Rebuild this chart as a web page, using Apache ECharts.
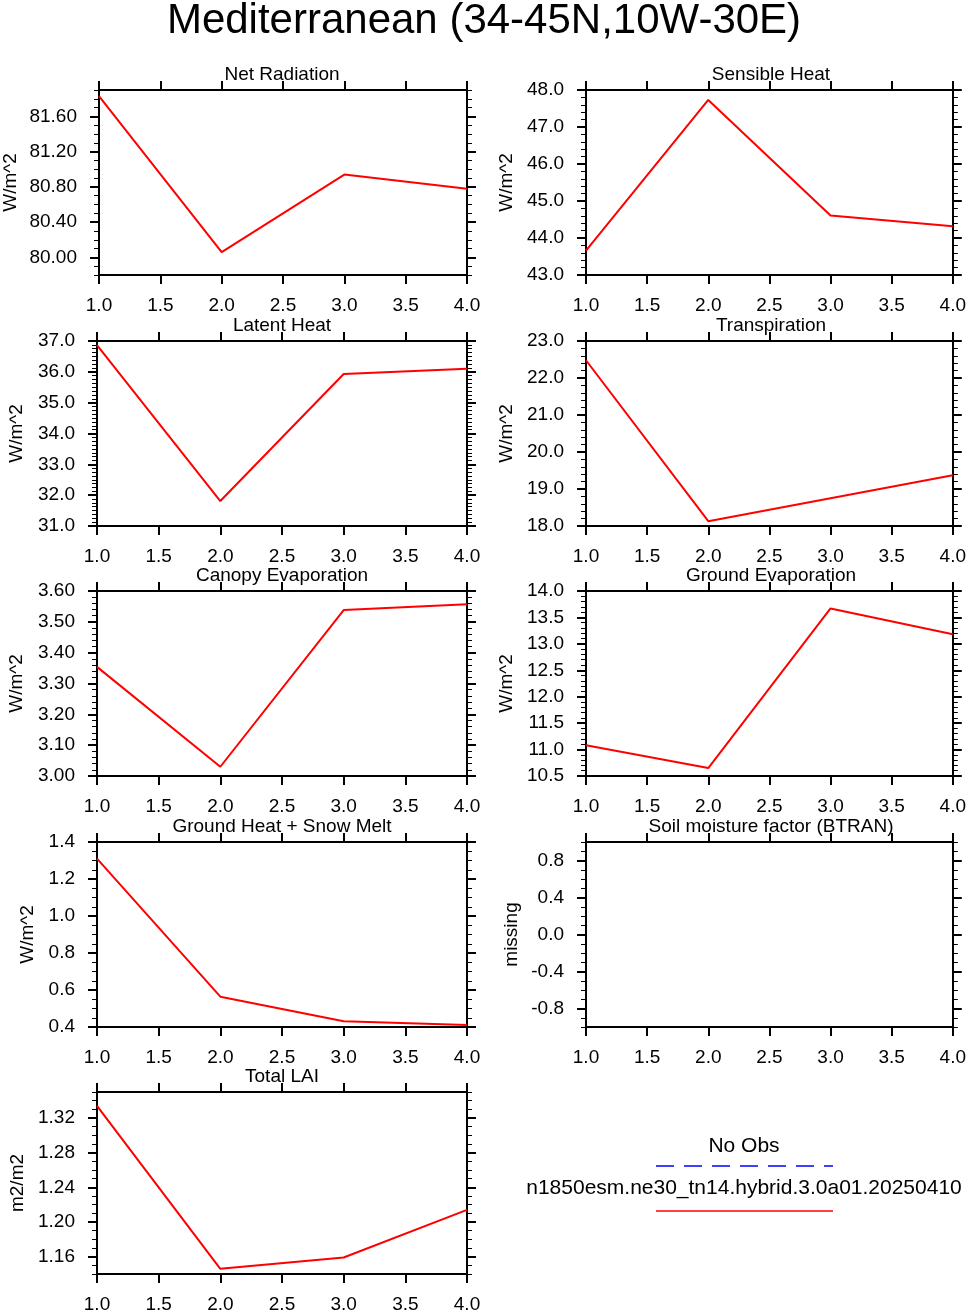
<!DOCTYPE html>
<html>
<head>
    <meta charset="utf-8">
    <title>Mediterranean</title>
    <script src="https://cdn.jsdelivr.net/npm/echarts@6.0.0/dist/echarts.min.js"></script>
    <style>
        html, body { margin: 0; padding: 0; background: #fff; }
        #main { width: 969px; height: 1314px; }
    </style>
</head>
<body>
<div id="main"></div>
<script>
// x positions (years) shared by every panel
var years = [1, 2, 3, 4];
var xTicks = [1.0, 1.5, 2.0, 2.5, 3.0, 3.5, 4.0];

// series values
var netRadiation = [81.83, 80.06, 80.94, 80.78];
var sensibleHeat = [43.66, 47.73, 44.61, 44.32];
var latentHeat = [36.87, 31.81, 35.93, 36.10];
var transpiration = [22.48, 18.13, 18.75, 19.37];
var canopyEvap = [3.354, 3.030, 3.538, 3.557];
var groundEvap = [11.08, 10.65, 13.67, 13.18];
var groundHeat = [1.31, 0.564, 0.431, 0.411];
var btran = [];   // missing
var totalLAI = [1.334, 1.146, 1.159, 1.214];

// major tick labels of each y axis
var netRadTicks = [80.0, 80.4, 80.8, 81.2, 81.6];
var sensibleTicks = [43, 44, 45, 46, 47, 48];
var latentTicks = [31, 32, 33, 34, 35, 36, 37];
var transpTicks = [18, 19, 20, 21, 22, 23];
var canopyTicks = [3.0, 3.1, 3.2, 3.3, 3.4, 3.5, 3.6];
var groundEvapTicks = [10.5, 11.0, 11.5, 12.0, 12.5, 13.0, 13.5, 14.0];
var groundHeatTicks = [0.4, 0.6, 0.8, 1.0, 1.2, 1.4];
var btranTicks = [-0.8, -0.4, 0.0, 0.4, 0.8];
var laiTicks = [1.16, 1.20, 1.24, 1.28, 1.32];

var panels = [
    {title: 'Net Radiation', unit: 'W/m^2', data: netRadiation, min: 79.8, max: 81.9, ticks: netRadTicks, minor: 0.1, dec: 2},
    {title: 'Sensible Heat', unit: 'W/m^2', data: sensibleHeat, min: 43, max: 48, ticks: sensibleTicks, minor: 0.2, dec: 1},
    {title: 'Latent Heat', unit: 'W/m^2', data: latentHeat, min: 31, max: 37, ticks: latentTicks, minor: 0.125, dec: 1},
    {title: 'Transpiration', unit: 'W/m^2', data: transpiration, min: 18, max: 23, ticks: transpTicks, minor: 0.2, dec: 1},
    {title: 'Canopy Evaporation', unit: 'W/m^2', data: canopyEvap, min: 3.0, max: 3.6, ticks: canopyTicks, minor: 0.02, dec: 2},
    {title: 'Ground Evaporation', unit: 'W/m^2', data: groundEvap, min: 10.5, max: 14, ticks: groundEvapTicks, minor: 0.1, dec: 1},
    {title: 'Ground Heat + Snow Melt', unit: 'W/m^2', data: groundHeat, min: 0.4, max: 1.4, ticks: groundHeatTicks, minor: 0.05, dec: 1},
    {title: 'Soil moisture factor (BTRAN)', unit: 'missing', data: btran, min: -1, max: 1, ticks: btranTicks, minor: 0.1, dec: 1},
    {title: 'Total LAI', unit: 'm2/m2', data: totalLAI, min: 1.14, max: 1.35, ticks: laiTicks, minor: 0.01, dec: 2}
];

// layout
var FONT = '"Liberation Sans", Arial, Helvetica, sans-serif';
var FS = 19;
var colLeft = [97, 586];
var rowTop = [90, 341, 591, 842, 1092];
var plotW = 370, plotH = 185;
var nameGaps = [79, 70, 71, 70, 71, 70, 60, 65, 70];

// minor tick values between min and max
function minorValues(min, max, step) {
    var out = [];
    var k0 = Math.ceil(min / step - 1e-6), k1 = Math.floor(max / step + 1e-6);
    for (var k = k0; k <= k1; k++) {
        out.push(Math.round(k * step * 1e6) / 1e6);
    }
    return out;
}

var blackLine = {color: '#000', width: 2};

var option = {
    animation: false,
    backgroundColor: '#fff',
    title: [{
        text: 'Mediterranean (34-45N,10W-30E)',
        left: 484, top: 0, textAlign: 'center', padding: 0,
        textStyle: {fontFamily: FONT, fontSize: 42, fontWeight: 'normal', color: '#000'}
    }],
    grid: [], xAxis: [], yAxis: [], series: [],
    graphic: []
};

for (var i = 0; i < panels.length; i++) {
    var p = panels[i];
    var gl = colLeft[i % 2], gt = rowTop[Math.floor(i / 2)];

    option.grid.push({left: gl, top: gt, width: plotW, height: plotH, show: false});

    option.title.push({
        text: p.title, left: gl + plotW / 2, top: gt - 25, textAlign: 'center', padding: 0,
        textStyle: {fontFamily: FONT, fontSize: FS, fontWeight: 'normal', color: '#000'}
    });

    // bottom x axis with labels, top x axis with ticks only
    ['bottom', 'top'].forEach(function (pos) {
        option.xAxis.push({
            type: 'value', gridIndex: i, position: pos, min: 1, max: 4,
            axisLine: {show: true, onZero: false, lineStyle: blackLine},
            axisTick: {show: true, length: 9, customValues: xTicks, lineStyle: blackLine},
            axisLabel: {
                show: pos === 'bottom', customValues: xTicks, margin: 21,
                fontFamily: FONT, fontSize: FS, color: '#000',
                formatter: function (v) { return v.toFixed(1); }
            },
            splitLine: {show: false}
        });
    });

    // left/right major axes and left/right minor tick axes
    var minors = minorValues(p.min, p.max, p.minor);
    (function (p, minors, gap) {
        ['left', 'right'].forEach(function (pos) {
            option.yAxis.push({
                type: 'value', gridIndex: i, position: pos, min: p.min, max: p.max,
                name: pos === 'left' ? p.unit : '', nameLocation: 'middle', nameGap: gap,
                nameTextStyle: {fontFamily: FONT, fontSize: FS, color: '#000'},
                axisLine: {show: true, onZero: false, lineStyle: blackLine},
                axisTick: {show: true, length: 9, customValues: p.ticks, lineStyle: blackLine},
                axisLabel: {
                    show: pos === 'left', customValues: p.ticks, margin: 22,
                    fontFamily: FONT, fontSize: FS, color: '#000',
                    formatter: function (v) { return v.toFixed(p.dec); }
                },
                splitLine: {show: false}
            });
            option.yAxis.push({
                type: 'value', gridIndex: i, position: pos, min: p.min, max: p.max,
                axisLine: {show: false, onZero: false},
                axisTick: {show: true, length: 5, customValues: minors, lineStyle: {color: '#000', width: 1}},
                axisLabel: {show: false},
                splitLine: {show: false}
            });
        });
    })(p, minors, nameGaps[i]);

    if (p.data.length) {
        option.series.push({
            type: 'line', xAxisIndex: 2 * i, yAxisIndex: 4 * i,
            data: years.map(function (x, k) { return [x, p.data[k]]; }),
            symbol: 'none', silent: true,
            lineStyle: {color: '#ff0000', width: 2}
        });
    }
}

// legend in the empty bottom-right slot
option.graphic = [
    {type: 'text', x: 744, y: 1146, style: {text: 'No Obs', fill: '#000', font: '21px ' + FONT, textAlign: 'center', textVerticalAlign: 'middle'}},
    {type: 'line', shape: {x1: 656, y1: 1166, x2: 833, y2: 1166}, style: {stroke: '#0000ff', lineWidth: 1.3, lineDash: [18, 10]}},
    {type: 'text', x: 744, y: 1188, style: {text: 'n1850esm.ne30_tn14.hybrid.3.0a01.20250410', fill: '#000', font: '21px ' + FONT, textAlign: 'center', textVerticalAlign: 'middle'}},
    {type: 'line', shape: {x1: 656, y1: 1211, x2: 833, y2: 1211}, style: {stroke: '#ff0000', lineWidth: 1.3}}
];

var chart = echarts.init(document.getElementById('main'));
chart.setOption(option);
</script>
</body>
</html>
